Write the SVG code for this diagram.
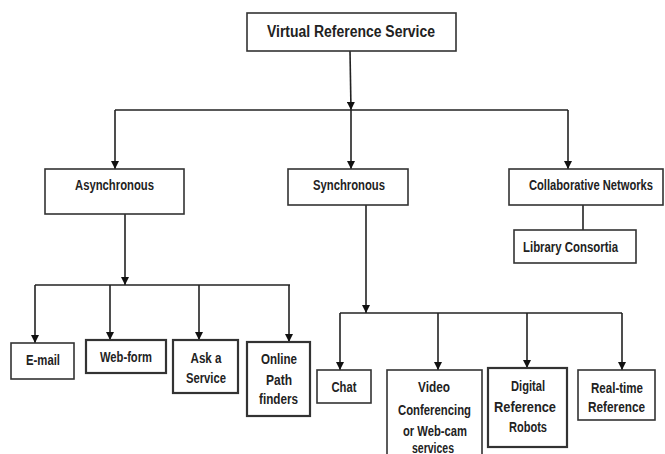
<svg xmlns="http://www.w3.org/2000/svg" width="665" height="454" viewBox="0 0 665 454">
<defs>
<marker id="ah" viewBox="0 0 8 8" refX="8" refY="4" markerWidth="8" markerHeight="8" markerUnits="userSpaceOnUse" orient="auto">
<path d="M0,0 L8,4 L0,8 z" fill="#111"/>
</marker>
</defs>
<style>
.box{fill:#fff;stroke:#333;stroke-width:1.6}
.thick{stroke-width:2.2}
.t{font-family:"Liberation Sans Narrow","Liberation Sans",Arial,sans-serif;font-weight:bold;font-size:14px;fill:#222;text-anchor:middle}
.big{font-size:16px}
.ln{fill:none;stroke:#222;stroke-width:1.6}
.arr{fill:none;stroke:#222;stroke-width:1.6;marker-end:url(#ah)}
</style>
<g id="connectors">
<path class="arr" d="M350,51 L351,110"/>
<path class="ln" d="M115,110 L568,110"/>
<path class="arr" d="M115,110 L115,169"/>
<path class="arr" d="M351,110 L351,169"/>
<path class="arr" d="M568,110 L568,169"/>
<path class="arr" d="M125,214 L125,285"/>
<path class="ln" d="M35,285 L290,285"/>
<path class="arr" d="M35,285 L35,343"/>
<path class="arr" d="M110,285 L110,340"/>
<path class="arr" d="M199,285 L199,340"/>
<path class="arr" d="M289,285 L289,342"/>
<path class="arr" d="M366,205 L366,313"/>
<path class="ln" d="M340,313 L622,313"/>
<path class="arr" d="M340,313 L340,370"/>
<path class="arr" d="M438,313 L438,370"/>
<path class="arr" d="M527,313 L527,368"/>
<path class="arr" d="M622,313 L622,370"/>
<path class="ln" d="M583,205 L583,230"/>
</g>
<g id="vrs">
<rect class="box" x="247" y="13" width="209" height="38"/>
<text class="t big" x="351" y="37" textLength="168" lengthAdjust="spacingAndGlyphs">Virtual Reference Service</text>
</g>
<g id="asynchronous">
<rect class="box" x="45" y="169" width="139" height="45"/>
<text class="t" x="114.5" y="190" textLength="79" lengthAdjust="spacingAndGlyphs">Asynchronous</text>
</g>
<g id="synchronous">
<rect class="box" x="288" y="169" width="120" height="36"/>
<text class="t" x="349" y="190" textLength="72" lengthAdjust="spacingAndGlyphs">Synchronous</text>
</g>
<g id="collaborative">
<rect class="box" x="509" y="169" width="154" height="36"/>
<text class="t" x="591" y="190" textLength="124" lengthAdjust="spacingAndGlyphs">Collaborative Networks</text>
</g>
<g id="consortia">
<rect class="box" x="514" y="230" width="122" height="33"/>
<text class="t" x="570.5" y="252" textLength="95" lengthAdjust="spacingAndGlyphs">Library Consortia</text>
</g>
<g id="email">
<rect class="box" x="11" y="343" width="63" height="36"/>
<text class="t" x="43" y="365" textLength="34" lengthAdjust="spacingAndGlyphs">E-mail</text>
</g>
<g id="webform">
<rect class="box thick" x="86" y="340" width="80" height="33"/>
<text class="t" x="126" y="362" textLength="52" lengthAdjust="spacingAndGlyphs">Web-form</text>
</g>
<g id="ask">
<rect class="box thick" x="173" y="340" width="65" height="53"/>
<text class="t" x="206" y="363" textLength="31" lengthAdjust="spacingAndGlyphs">Ask a</text>
<text class="t" x="206" y="383" textLength="40" lengthAdjust="spacingAndGlyphs">Service</text>
</g>
<g id="pathfinders">
<rect class="box thick" x="247" y="342" width="63" height="74"/>
<text class="t" x="279" y="364" textLength="36" lengthAdjust="spacingAndGlyphs">Online</text>
<text class="t" x="279" y="385" textLength="26" lengthAdjust="spacingAndGlyphs">Path</text>
<text class="t" x="278.5" y="404" textLength="39" lengthAdjust="spacingAndGlyphs">finders</text>
</g>
<g id="chat">
<rect class="box" x="317" y="370" width="54" height="33"/>
<text class="t" x="344" y="392" textLength="25" lengthAdjust="spacingAndGlyphs">Chat</text>
</g>
<g id="video">
<rect class="box" x="387" y="370" width="95" height="90"/>
<text class="t" x="434" y="392" textLength="32" lengthAdjust="spacingAndGlyphs">Video</text>
<text class="t" x="434.5" y="415" textLength="73" lengthAdjust="spacingAndGlyphs">Conferencing</text>
<text class="t" x="435" y="436" textLength="64" lengthAdjust="spacingAndGlyphs">or Web-cam</text>
<text class="t" x="433" y="453" textLength="42" lengthAdjust="spacingAndGlyphs">services</text>
</g>
<g id="robots">
<rect class="box thick" x="488" y="368" width="79" height="79"/>
<text class="t" x="528" y="391" textLength="34" lengthAdjust="spacingAndGlyphs">Digital</text>
<text class="t" x="525" y="412" textLength="62" lengthAdjust="spacingAndGlyphs">Reference</text>
<text class="t" x="528" y="432" textLength="38" lengthAdjust="spacingAndGlyphs">Robots</text>
</g>
<g id="realtime">
<rect class="box" x="578" y="370" width="77" height="50"/>
<text class="t" x="617" y="393" textLength="52" lengthAdjust="spacingAndGlyphs">Real-time</text>
<text class="t" x="616.5" y="412" textLength="57" lengthAdjust="spacingAndGlyphs">Reference</text>
</g>
</svg>
